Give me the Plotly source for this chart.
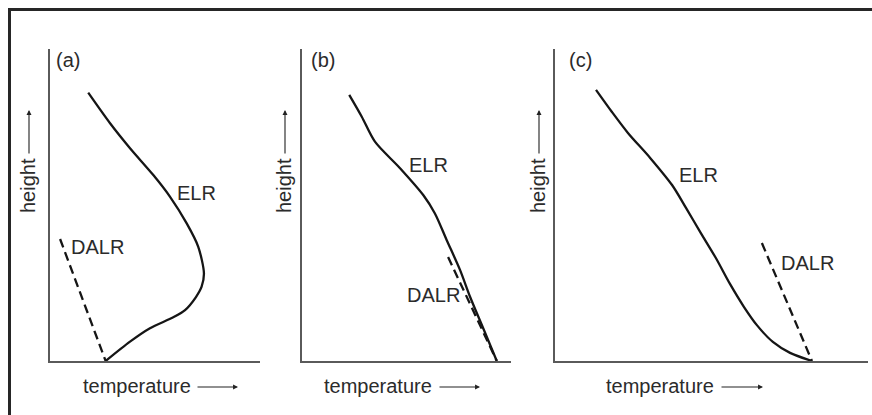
import plotly.graph_objects as go

# ---------------- data (arbitrary units: temperature 0-100, height 0-100) ----------------
panel_letters = ["(a)", "(b)", "(c)"]

elr_a_temp = [18.2, 28.6, 38.1, 49.2, 57.1, 65.1, 70.6, 73.3, 72.2, 69.5, 64.3, 58.7, 47.6, 38.1, 26.5]
elr_a_height = [86.0, 76.2, 68.2, 59.6, 52.7, 44.1, 36.6, 28.1, 23.8, 20.5, 16.3, 14.0, 10.5, 6.2, 0.0]
dalr_a_temp = [4.8, 26.5]
dalr_a_height = [39.1, 0.0]

elr_b_temp = [22.6, 28.6, 34.9, 46.9, 58.0, 63.6, 69.2, 75.6, 80.4, 86.7, 93.2]
elr_b_height = [85.3, 78.3, 70.3, 61.8, 53.2, 47.3, 38.8, 29.2, 20.6, 10.5, 0.0]
dalr_b_temp = [69.9, 93.2]
dalr_b_height = [33.3, 0.0]

elr_c_temp = [13.1, 18.2, 23.3, 30.4, 37.4, 41.9, 46.6, 51.4, 55.9, 60.4, 64.5, 69.6, 75.1, 82.1]
elr_c_height = [86.9, 79.8, 73.1, 65.1, 56.4, 49.0, 41.0, 33.0, 24.7, 17.3, 11.5, 6.1, 2.6, 0.0]
dalr_c_temp = [66.1, 82.1]
dalr_c_height = [37.8, 0.0]

elr_temps = [elr_a_temp, elr_b_temp, elr_c_temp]
elr_heights = [elr_a_height, elr_b_height, elr_c_height]
dalr_temps = [dalr_a_temp, dalr_b_temp, dalr_c_temp]
dalr_heights = [dalr_a_height, dalr_b_height, dalr_c_height]

x_label = "temperature"
y_label = "height"
elr_name = "ELR"
dalr_name = "DALR"

# ---------------- layout (pixel geometry) ----------------
W, H = 872, 415
FONT = "Liberation Sans, Arial, Helvetica, sans-serif"
FS = 20
TXT = "#2b2b2b"
AX = "#5a5a5a"

def px(x):
    return x / W

def py(y):
    return 1 - y / H

panel_x = [(50, 260), (302, 511), (555, 868)]
y_top, y_bot = 49, 361

# label anchor positions (in panel data units)
elr_lab = [(59.5, 53.8), (50.2, 62.8), (39.0, 59.6)]
dalr_lab = [(9.0, 36.5), (49.4, 21.2), (71.6, 31.4)]
letter_px = [54, 309, 567]
height_cx = [28, 284, 538]
temp_text = [(81, 192), (323, 433), (605, 714)]
temp_arrow = [(196, 238), (438, 480), (720, 763)]

fig = go.Figure()
annotations = []

for i in range(3):
    xa = "x" if i == 0 else f"x{i+1}"
    ya = "y" if i == 0 else f"y{i+1}"
    fig.add_trace(go.Scatter(
        x=elr_temps[i], y=elr_heights[i], mode="lines",
        line=dict(color="#151515", width=2.3, shape="spline", smoothing=0.8),
        xaxis=xa, yaxis=ya, showlegend=False, hoverinfo="skip"))
    fig.add_trace(go.Scatter(
        x=dalr_temps[i], y=dalr_heights[i], mode="lines",
        line=dict(color="#151515", width=2.3, dash="9px,5px"),
        xaxis=xa, yaxis=ya, showlegend=False, hoverinfo="skip"))

    x0, x1 = panel_x[i]
    axis_common = dict(range=[0, 100], showgrid=False, zeroline=False,
                       showticklabels=False, ticks="", showline=True,
                       linecolor=AX, linewidth=1.6, fixedrange=True)
    fig.layout[("xaxis" if i == 0 else f"xaxis{i+1}")] = dict(
        domain=[px(x0), px(x1)], anchor=ya, **axis_common)
    fig.layout[("yaxis" if i == 0 else f"yaxis{i+1}")] = dict(
        domain=[py(y_bot), py(y_top)], anchor=xa, **axis_common)

    # curve labels
    annotations.append(dict(x=elr_lab[i][0], y=elr_lab[i][1], xref=xa, yref=ya,
                            text=elr_name, showarrow=False, xanchor="left", yanchor="middle",
                            font=dict(family=FONT, size=FS, color=TXT)))
    annotations.append(dict(x=dalr_lab[i][0], y=dalr_lab[i][1], xref=xa, yref=ya,
                            text=dalr_name, showarrow=False, xanchor="left", yanchor="middle",
                            font=dict(family=FONT, size=FS, color=TXT)))
    # panel letter
    annotations.append(dict(x=px(letter_px[i]), y=py(60), xref="paper", yref="paper",
                            text=panel_letters[i], showarrow=False, xanchor="left", yanchor="middle",
                            font=dict(family=FONT, size=FS, color=TXT)))
    # height label + arrow
    annotations.append(dict(x=px(height_cx[i]), y=py(186), xref="paper", yref="paper",
                            text=y_label, showarrow=False, textangle=-90,
                            xanchor="center", yanchor="middle",
                            font=dict(family=FONT, size=FS, color=TXT)))
    annotations.append(dict(x=px(height_cx[i] + 1), y=py(110), xref="paper", yref="paper",
                            text="", showarrow=True, ax=0, ay=45, axref="pixel", ayref="pixel",
                            arrowhead=2, arrowsize=0.9, arrowwidth=1.1, arrowcolor="#222"))
    # temperature label + arrow
    tx0, tx1 = temp_text[i]
    annotations.append(dict(x=px((tx0 + tx1) / 2), y=py(386), xref="paper", yref="paper",
                            text=x_label, showarrow=False, xanchor="center", yanchor="middle",
                            font=dict(family=FONT, size=FS, color=TXT)))
    ax0, ax1 = temp_arrow[i]
    annotations.append(dict(x=px(ax1), y=py(387), xref="paper", yref="paper",
                            text="", showarrow=True, ax=-(ax1 - ax0), ay=0,
                            arrowhead=2, arrowsize=0.9, arrowwidth=1.1, arrowcolor="#222"))

# frame (top + left border of the original boxed figure)
shapes = [
    dict(type="line", xref="paper", yref="paper", x0=px(8), x1=px(W), y0=py(9.5), y1=py(9.5),
         line=dict(color="#262626", width=3)),
    dict(type="line", xref="paper", yref="paper", x0=px(9.5), x1=px(9.5), y0=py(8), y1=py(H),
         line=dict(color="#262626", width=3)),
]

fig.update_layout(
    width=W, height=H,
    margin=dict(l=0, r=0, t=0, b=0),
    paper_bgcolor="white", plot_bgcolor="white",
    annotations=annotations, shapes=shapes,
    font=dict(family=FONT, size=FS, color=TXT),
)

fig.write_html("out.html",
               config={"displayModeBar": False, "staticPlot": True},
               post_script="document.body.style.margin='0';document.body.style.overflow='hidden';")
